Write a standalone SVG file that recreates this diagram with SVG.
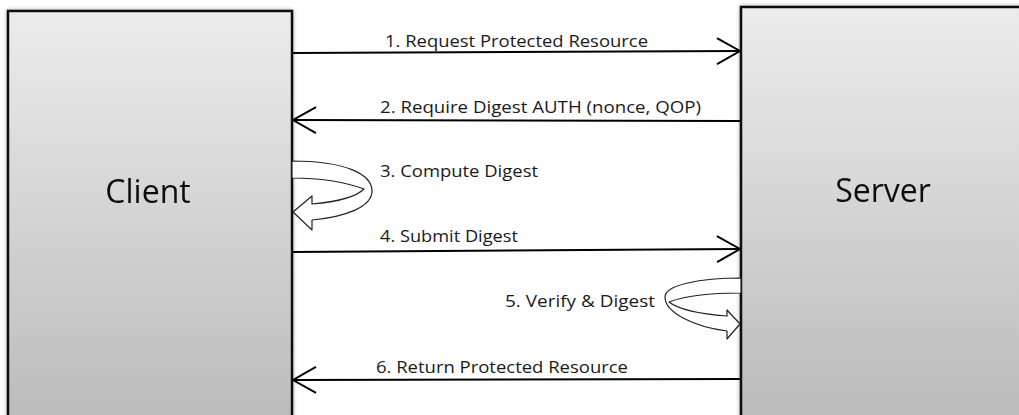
<svg xmlns="http://www.w3.org/2000/svg" width="1019" height="415" viewBox="0 0 1019 415">
<defs>
<linearGradient id="boxGrad" x1="0" y1="0" x2="0" y2="1">
<stop offset="0" stop-color="#ececec"/>
<stop offset="1" stop-color="#bababa"/>
</linearGradient>
<filter id="shadow" x="-10%" y="-10%" width="120%" height="120%">
<feGaussianBlur in="SourceAlpha" stdDeviation="2"/>
<feOffset dx="0" dy="0"/>
<feComponentTransfer><feFuncA type="linear" slope="0.35"/></feComponentTransfer>
<feMerge><feMergeNode/><feMergeNode in="SourceGraphic"/></feMerge>
</filter>
<marker id="openArrow" viewBox="0 0 26 28" refX="24" refY="14" markerWidth="26" markerHeight="28" markerUnits="userSpaceOnUse" orient="auto">
<path d="M1,1 L24,14 L1,27" fill="none" stroke="#000" stroke-width="2"/>
</marker>
</defs>
<style>
.box{fill:url(#boxGrad);stroke:#111;stroke-width:2.5;}
.title{font-family:"Open Sans","Liberation Sans",sans-serif;font-size:32px;fill:#111;text-anchor:middle;}
.lbl{font-family:"Open Sans","Liberation Sans",sans-serif;font-size:17px;fill:#1a1a1a;}
.msg{stroke:#000;stroke-width:2;fill:none;marker-end:url(#openArrow);}
.loop{fill:#fff;stroke:#222;stroke-width:1.2;stroke-linejoin:round;}
</style>
<rect width="1019" height="415" fill="#fff"/>
<g id="client" filter="url(#shadow)">
<rect class="box" x="8" y="11" width="284" height="420"/>
<text class="title" x="148" y="203">Client</text>
</g>
<g id="server" filter="url(#shadow)">
<rect class="box" x="741" y="7" width="290" height="420"/>
<text class="title" x="883" y="202">Server</text>
</g>
<g id="connectors">
<line class="msg" x1="292" y1="53" x2="740" y2="51"/>
<line class="msg" x1="741" y1="121" x2="293" y2="120"/>
<line class="msg" x1="292" y1="252" x2="740" y2="249"/>
<line class="msg" x1="741" y1="379" x2="293" y2="380"/>
<path class="loop" d="M292,161 C345,161 372,174 372,191 C372,207 345,217 312,220 L312,230 L293,212 L312,196 L312,204 C335,202 356,197 364,189 C345,182 318,178 292,178 Z"/>
<path class="loop" d="M741,278 C700,278 665,285 665,297 C665,313 695,327 727,331 L727,339 L740,324 L727,310 L727,316 C700,314 678,309 669,302 C685,296 710,293 741,293 Z"/>
</g>
<g id="labels">
<text class="lbl" x="385" y="47" textLength="263" lengthAdjust="spacingAndGlyphs">1. Request Protected Resource</text>
<text class="lbl" x="380" y="113" textLength="321" lengthAdjust="spacingAndGlyphs">2. Require Digest AUTH (nonce, QOP)</text>
<text class="lbl" x="380" y="177" textLength="158" lengthAdjust="spacingAndGlyphs">3. Compute Digest</text>
<text class="lbl" x="380" y="242" textLength="138" lengthAdjust="spacingAndGlyphs">4. Submit Digest</text>
<text class="lbl" x="505" y="307" textLength="150" lengthAdjust="spacingAndGlyphs">5. Verify &amp; Digest</text>
<text class="lbl" x="376" y="373" textLength="252" lengthAdjust="spacingAndGlyphs">6. Return Protected Resource</text>
</g>
</svg>
